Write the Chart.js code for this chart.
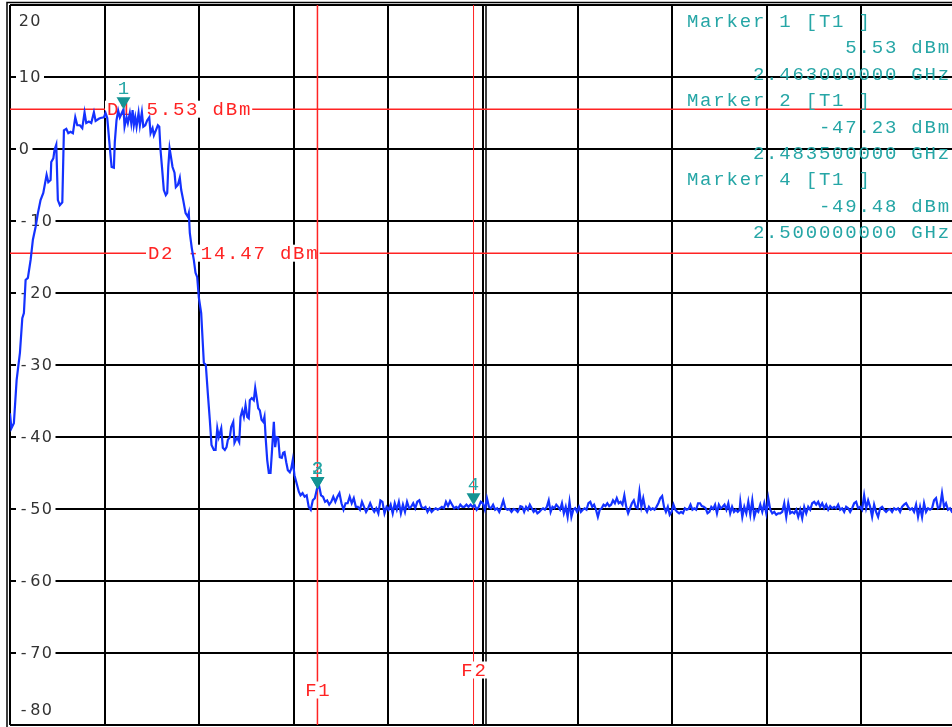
<!DOCTYPE html>
<html>
<head>
<meta charset="utf-8">
<script src="https://cdn.jsdelivr.net/npm/chart.js@4.4.1/dist/chart.umd.min.js"></script>
<style>
  html, body { margin: 0; padding: 0; background: #fff; overflow: hidden; }
  #wrap { width: 952px; height: 727px; overflow: hidden; }
  canvas { display: block; }
</style>
</head>
<body>
<div id="wrap"><canvas id="chart" width="960" height="727"></canvas></div>
<script>
// sweep 2451 .. 2551 MHz, 10 MHz / div, ref level 20 dBm, 10 dB / div
const xGrid = [2451, 2461, 2471, 2481, 2491, 2501, 2511, 2521, 2531, 2541, 2551];
const yTicks = [20, 10, 0, -10, -20, -30, -40, -50, -60, -70, -80];

// main lobe + skirt (MHz / dBm)
const lobeFreq = [
  2451.00, 2451.15, 2451.41, 2451.70, 2452.05, 2452.30, 2452.47, 2452.65, 2452.89, 2453.18,
  2453.42, 2453.71, 2453.95, 2454.23, 2454.52, 2454.87, 2455.05, 2455.29, 2455.36, 2455.58,
  2455.71, 2455.89, 2456.06, 2456.27, 2456.53, 2456.70, 2456.95, 2457.16, 2457.40, 2457.65,
  2457.90, 2458.11, 2458.39, 2458.64, 2458.88, 2459.06, 2459.34, 2459.59, 2459.87, 2460.05,
  2460.39, 2460.57, 2460.92, 2461.10, 2461.28, 2461.56, 2461.74, 2461.98, 2462.08, 2462.26,
  2462.44, 2462.61, 2463.00, 2463.11, 2463.32, 2463.46, 2463.67, 2463.82, 2463.96, 2464.09,
  2464.24, 2464.38, 2464.59, 2464.73, 2464.94, 2465.09, 2465.30, 2465.51, 2465.72, 2465.86,
  2466.07, 2466.21, 2466.42, 2466.63, 2466.78, 2466.91, 2467.09, 2467.26, 2467.47, 2467.62,
  2467.73, 2467.87, 2468.04, 2468.18, 2468.39, 2468.53, 2468.74, 2468.95, 2469.10, 2469.31,
  2469.56, 2469.80, 2469.90, 2470.01, 2470.22, 2470.43, 2470.61, 2470.79, 2470.96, 2471.21,
  2471.49, 2471.70, 2471.91, 2472.12, 2472.30, 2472.55, 2472.73, 2472.91, 2473.07, 2473.33,
  2473.50, 2473.71, 2473.89, 2474.03, 2474.24, 2474.38, 2474.60, 2474.73, 2474.87, 2475.02,
  2475.23, 2475.37, 2475.55, 2475.72, 2475.90, 2476.08, 2476.24, 2476.35, 2476.56, 2476.77,
  2476.92, 2477.06, 2477.24, 2477.41, 2477.59, 2477.77, 2477.90, 2478.04, 2478.19, 2478.36,
  2478.54, 2478.68, 2478.89, 2479.03, 2479.17, 2479.35, 2479.52, 2479.73, 2479.88, 2480.02,
  2480.20, 2480.37, 2480.58, 2480.73, 2480.89, 2481.07, 2481.29, 2481.53
];
const lobeLevel = [
  -36.7, -38.8, -38.1, -32.1, -28.3, -23.5, -22.8, -18.2, -17.9, -15.4,
  -12.6, -10.8, -8.9, -7.1, -6.1, -3.6, -4.6, -4.3, -1.8, -1.3,
  -0.1, 0.6, -7.1, -7.8, -7.4, 2.6, 2.8, 2.2, 2.4, 2.2,
  4.4, 3.3, 3.3, 2.9, 5.1, 3.6, 3.8, 3.6, 5.1, 3.9,
  4.2, 4.3, 4.4, 5.0, 4.3, 0.1, -2.5, -2.6, 1.0, 4.0,
  5.3, 4.4, 5.53, 3.1, 4.4, 3.6, 5.0, 3.6, 5.4, 3.3,
  4.4, 3.1, 5.0, 3.3, 5.1, 3.1, 3.3, 4.0, 4.4, 2.2,
  2.9, 1.9, 2.6, 3.3, 3.1, -0.1, -2.9, -5.7, -6.4, -6.1,
  -2.5, 0.1, -1.3, -2.5, -3.3, -5.3, -5.0, -4.0, -5.7, -7.1,
  -8.9, -9.4, -8.9, -11.7, -13.8, -15.4, -17.2, -17.8, -20.6, -22.8,
  -29.7, -30.0, -33.9, -37.6, -41.1, -41.8, -41.8, -38.8, -40.0, -38.8,
  -41.5, -41.8, -41.4, -40.4, -40.0, -38.6, -37.9, -40.8, -40.4, -40.1,
  -40.7, -37.2, -36.3, -37.2, -35.6, -37.2, -37.4, -34.9, -34.6, -34.9,
  -33.2, -34.4, -36.0, -36.3, -37.6, -37.9, -37.2, -40.4, -43.2, -45.0,
  -45.0, -42.2, -37.9, -41.4, -40.0, -40.1, -42.8, -42.9, -42.2, -42.1,
  -43.5, -44.6, -44.9, -44.4, -43.2, -45.3, -46.4, -47.6
];

// noise floor, evenly spaced bins between the given start / stop frequency
const noiseARange = [2481.71, 2504.88];
const noiseA = [
  -48.1, -47.8, -48.3, -48.1, -49.7, -50.1, -48.8, -48.5, -47.23, -46.7,
  -48.1, -48.3, -49.0, -48.8, -49.4, -49.0, -48.3, -49.0, -48.3, -47.8,
  -49.2, -50.1, -49.2, -49.2, -48.3, -49.2, -48.5, -49.7, -49.7, -50.1,
  -49.0, -49.7, -50.4, -49.9, -49.2, -49.9, -50.4, -49.9, -50.6, -48.8,
  -49.0, -50.6, -49.7, -50.1, -49.4, -50.6, -49.2, -50.1, -49.0, -50.6,
  -49.4, -50.4, -49.0, -49.9, -49.7, -49.2, -49.9, -49.0, -48.8, -49.7,
  -49.9, -49.7, -50.4, -49.9, -50.4, -50.1, -49.9, -50.1, -49.9, -49.7,
  -49.9, -49.0, -49.6, -48.9, -49.4, -49.9, -49.7, -49.9, -49.4, -49.7,
  -49.7, -49.4, -49.7, -49.4, -49.7, -49.48, -50.1, -49.7, -49.0, -49.2,
  -50.1, -48.5, -49.7, -49.9, -49.4, -50.1, -49.9, -50.4, -49.7, -48.8,
  -49.9, -50.1, -50.0, -50.4, -50.0, -50.1, -50.4, -49.9
];
const noiseBRange = [2504.95, 2528.13];
const noiseB = [
  -49.6, -49.7, -50.4, -49.7, -50.1, -49.4, -49.9, -50.4, -50.1, -50.6,
  -50.4, -50.1, -49.9, -50.1, -49.7, -48.8, -50.4, -49.7, -49.9, -49.4,
  -49.7, -50.1, -49.2, -50.6, -49.7, -51.1, -49.0, -51.1, -50.1, -49.9,
  -50.4, -49.7, -50.4, -50.1, -49.9, -50.1, -49.2, -49.0, -49.7, -49.4,
  -50.1, -51.1, -50.1, -49.9, -49.4, -49.6, -49.2, -49.6, -49.4, -48.8,
  -49.2, -48.5, -49.2, -49.0, -49.4, -48.1, -49.7, -50.6, -49.9, -49.2,
  -48.8, -49.7, -49.9, -47.6, -49.7, -48.5, -49.9, -50.4, -49.7, -50.1,
  -49.9, -50.1, -49.7, -49.2, -48.5, -48.2, -49.7, -50.4, -49.7, -50.8,
  -50.4, -49.4, -50.1, -50.4, -50.6, -50.4, -50.6, -49.9, -50.1, -50.0,
  -49.4, -50.1, -49.9, -50.1, -49.2, -49.2, -49.6, -49.7, -49.9, -50.6,
  -50.4, -49.7, -50.0, -49.4, -50.6, -49.4, -49.9, -49.7, -49.4, -50.1,
  -49.2, -50.6, -49.7, -50.4, -50.1, -50.4, -50.1
];
const noiseCRange = [2528.20, 2551.0];
const noiseC = [
  -49.0, -51.1, -49.7, -50.6, -49.0, -50.8, -48.8, -51.1, -50.1, -50.4,
  -49.4, -50.4, -49.2, -50.6, -48.5, -50.1, -50.6, -50.4, -50.8, -50.6,
  -50.6, -50.4, -49.2, -51.1, -49.2, -50.6, -50.4, -50.6, -50.1, -51.1,
  -50.1, -51.3, -49.7, -50.6, -49.7, -50.1, -49.2, -49.0, -49.4, -49.0,
  -49.7, -49.2, -49.9, -49.4, -50.1, -49.6, -49.9, -49.7, -49.9, -49.4,
  -50.1, -49.9, -50.4, -49.7, -49.9, -50.4, -49.9, -49.2, -49.0, -49.9,
  -49.7, -50.1, -48.1, -49.9, -48.8, -49.7, -51.1, -49.4, -50.4, -51.1,
  -49.9, -49.7, -50.1, -50.4, -50.1, -50.0, -50.4, -49.9, -50.1, -49.9,
  -50.4, -49.7, -49.4, -49.2, -49.7, -50.1, -49.9, -50.4, -49.4, -51.1,
  -49.7, -51.1, -49.2, -50.4, -49.9, -50.1, -49.9, -48.8, -48.5, -49.9,
  -49.7, -47.8, -49.7, -49.2, -50.1, -49.9, -50.4, -50.6, -50.6
];

// markers
const markerNum = ['1', '2', '3', '4'];
const markerFreq = [2463.0, 2483.5, 2483.5, 2500.0];
const markerLevel = [5.53, -47.23, -47.23, -49.48];

// display lines
const dLineName = ['D1', 'D2'];
const dLineLevel = [5.53, -14.47];
const fLineName = ['F1', 'F2'];
const fLineFreq = [2483.5, 2500.0];

const readout = [
  'Marker 1 [T1 ]', '5.53 dBm', '2.463000000 GHz',
  'Marker 2 [T1 ]', '-47.23 dBm', '2.483500000 GHz',
  'Marker 4 [T1 ]', '-49.48 dBm', '2.500000000 GHz'
];

const red = '#ff2323';
const teal = '#26a6a6';
const tealMark = '#149393';
const pitch = 13.2;
const monoFont = '19px "Liberation Mono", "DejaVu Sans Mono", monospace';

let trace = [];
lobeFreq.forEach((f, i) => trace.push({x: f, y: lobeLevel[i]}));
const addNoise = (range, levels) => {
    levels.forEach((v, i) => {
        trace.push({x: range[0] + (range[1] - range[0]) * i / (levels.length - 1), y: v});
    });
};
addNoise(noiseARange, noiseA);
addNoise(noiseBRange, noiseB);
addNoise(noiseCRange, noiseC);

// draws text one glyph at a time on a fixed pitch, like the analyser screen
const drawSpaced = (ctx, text, left, cy, step) => {
    for (let i = 0; i < text.length; i++) {
        ctx.fillText(text[i], left + i * step + step / 2, cy);
    }
};

const whiteBox = (ctx, left, cy, w, h) => {
    ctx.fillStyle = '#fff';
    ctx.fillRect(left, cy - h / 2, w, h);
};

const overlay = {
    id: 'overlay',
    beforeDatasetsDraw(chart) {
        const {ctx, chartArea: area, scales: {x, y}} = chart;
        ctx.save();

        // outer frame + doubled centre line
        ctx.strokeStyle = '#000';
        ctx.lineWidth = 1.5;
        ctx.beginPath();
        ctx.moveTo(area.left - 3, area.bottom + 2);
        ctx.lineTo(area.left - 3, area.top - 2.5);
        ctx.lineTo(area.right + 4, area.top - 2.5);
        const cx = Math.round(x.getPixelForValue(xGrid[5])) + 3;
        ctx.moveTo(cx, area.top);
        ctx.lineTo(cx, area.bottom);
        ctx.stroke();

        ctx.textAlign = 'center';
        ctx.textBaseline = 'middle';

        // level lines D1 / D2
        const dLabelLeft = [105, 146];
        dLineName.forEach((name, i) => {
            const py = y.getPixelForValue(dLineLevel[i]);
            ctx.strokeStyle = red;
            ctx.lineWidth = 1.5;
            ctx.beginPath();
            ctx.moveTo(area.left, py);
            ctx.lineTo(area.right, py);
            ctx.stroke();
            const label = name + ' ' + dLineLevel[i].toFixed(2) + ' dBm';
            whiteBox(ctx, dLabelLeft[i], py, label.length * pitch + 2, 17);
            ctx.fillStyle = red;
            ctx.font = monoFont;
            drawSpaced(ctx, label, dLabelLeft[i] + 1, py + 1, pitch);
        });

        // frequency lines F1 / F2
        const fLabelY = [690, 670];
        fLineName.forEach((name, i) => {
            const px = x.getPixelForValue(fLineFreq[i]);
            ctx.strokeStyle = red;
            ctx.lineWidth = i === 0 ? 1.5 : 1;
            ctx.beginPath();
            ctx.moveTo(px, area.top);
            ctx.lineTo(px, area.bottom);
            ctx.stroke();
            const w = name.length * pitch;
            whiteBox(ctx, px - w / 2 - 2, fLabelY[i], w + 4, 17);
            ctx.fillStyle = red;
            ctx.font = monoFont;
            drawSpaced(ctx, name, px - w / 2, fLabelY[i] + 1, pitch);
        });

        // level scale labels inside the grid
        ctx.font = '16px "DejaVu Sans", sans-serif';
        yTicks.forEach((v) => {
            let py = y.getPixelForValue(v);
            py = Math.min(Math.max(py, area.top + 16), area.bottom - 15);
            const s = String(v);
            const w = s.length * 11.5;
            whiteBox(ctx, 16, py, w + 5, 15);
            ctx.fillStyle = '#333';
            drawSpaced(ctx, s, 18, py + 1, 11.5);
        });

        // marker readout, 20 character field against the right edge
        ctx.font = monoFont;
        ctx.fillStyle = teal;
        const fieldRight = area.right - 6;
        const fieldLeft = fieldRight - 20 * pitch;
        readout.forEach((line, i) => {
            const cy = area.top + 17 + i * 26.4;
            const left = line.startsWith('Marker') ? fieldLeft : fieldRight - line.length * pitch;
            drawSpaced(ctx, line, left, cy, pitch);
        });
        ctx.restore();
    },
    afterDatasetsDraw(chart) {
        const {ctx, scales: {x, y}} = chart;
        ctx.save();
        ctx.font = monoFont;
        ctx.textAlign = 'center';
        ctx.textBaseline = 'middle';
        markerNum.forEach((n, i) => {
            const px = x.getPixelForValue(markerFreq[i]);
            const py = y.getPixelForValue(markerLevel[i]);
            ctx.fillStyle = tealMark;
            ctx.beginPath();
            ctx.moveTo(px - 7, py - 12);
            ctx.lineTo(px + 7, py - 12);
            ctx.lineTo(px, py);
            ctx.closePath();
            ctx.fill();
            ctx.fillStyle = teal;
            ctx.fillText(n, px, py - 20);
        });
        ctx.restore();
    }
};

new Chart(document.getElementById('chart'), {
    type: 'line',
    data: {
        datasets: [{
            data: trace,
            borderColor: '#1432ff',
            borderWidth: 2.2,
            pointRadius: 0,
            tension: 0,
            fill: false
        }]
    },
    options: {
        responsive: false,
        animation: false,
        events: [],
        layout: { padding: { left: 10, top: 5, right: 4, bottom: 2 } },
        plugins: { legend: { display: false }, tooltip: { enabled: false } },
        scales: {
            x: {
                type: 'linear',
                min: xGrid[0],
                max: xGrid[xGrid.length - 1],
                afterBuildTicks: (axis) => { axis.ticks = xGrid.map((v) => ({value: v})); },
                ticks: { display: false },
                border: { display: false },
                grid: { color: '#000', lineWidth: 2, drawTicks: false }
            },
            y: {
                min: -80,
                max: 20,
                ticks: { display: false, stepSize: 10 },
                border: { display: false },
                grid: { color: '#000', lineWidth: 2, drawTicks: false }
            }
        }
    },
    plugins: [overlay]
});
</script>
</body>
</html>
